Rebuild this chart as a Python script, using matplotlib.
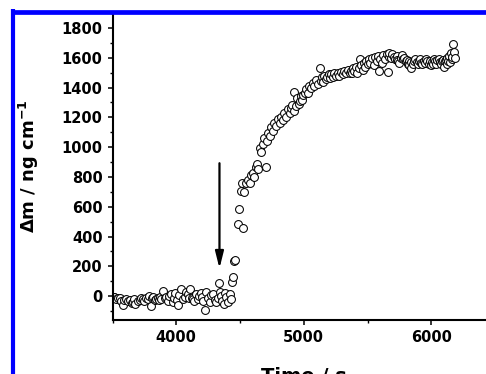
import matplotlib
matplotlib.use("Agg")
import matplotlib.pyplot as plt
from matplotlib.lines import Line2D
from matplotlib.ticker import MultipleLocator

plt.rcParams['font.family'] = ['DejaVu Sans']
plt.rcParams['font.weight'] = 'bold'
plt.rcParams['mathtext.default'] = 'bf'

time_s = [
    3510, 3515, 3528, 3540, 3555, 3568, 3581, 3594, 3607, 3620, 3639, 3650, 3659, 3670, 3680, 3696,
    3700, 3712, 3725, 3738, 3750, 3764, 3777, 3790, 3803, 3812, 3821, 3832, 3843, 3853, 3863, 3875,
    3884, 3895, 3908, 3921, 3935, 3947, 3960, 3973, 3984, 3994, 4003, 4012, 4025, 4039, 4052, 4065,
    4078, 4091, 4100, 4109, 4120, 4130, 4143, 4156, 4170, 4182, 4192, 4203, 4212, 4222, 4235, 4248,
    4261, 4274, 4287, 4300, 4313, 4325, 4334, 4343, 4352, 4362, 4371, 4382, 4392, 4405, 4418, 4428,
    4439, 4448, 4455, 4460, 4483, 4491, 4509, 4512, 4522, 4535, 4549, 4560, 4575, 4588, 4600, 4612,
    4625, 4637, 4645, 4653, 4665, 4680, 4692, 4705, 4712, 4720, 4735, 4745, 4755, 4770, 4785, 4797,
    4810, 4822, 4835, 4848, 4862, 4875, 4890, 4900, 4911, 4920, 4927, 4938, 4950, 4960, 4967, 4977,
    4985, 4995, 5006, 5018, 5030, 5045, 5058, 5070, 5080, 5095, 5108, 5124, 5132, 5140, 5150, 5160,
    5172, 5186, 5195, 5205, 5215, 5226, 5238, 5250, 5265, 5280, 5292, 5306, 5318, 5330, 5345, 5359,
    5370, 5380, 5390, 5398, 5410, 5420, 5432, 5445, 5452, 5461, 5470, 5480, 5490, 5500, 5510, 5520,
    5535, 5553, 5562, 5575, 5585, 5591, 5600, 5610, 5625, 5640, 5650, 5659, 5665, 5672, 5684, 5696,
    5708, 5719, 5728, 5735, 5742, 5750, 5762, 5774, 5782, 5790, 5800, 5808, 5815, 5822, 5829, 5838,
    5845, 5855, 5865, 5875, 5885, 5895, 5905, 5915, 5922, 5931, 5940, 5950, 5960, 5970, 5980, 5988,
    5996, 6005, 6015, 6022, 6030, 6040, 6049, 6060, 6070, 6078, 6085, 6093, 6101, 6108, 6115, 6122,
    6127, 6135, 6140, 6148, 6153, 6160, 6165, 6174, 6182, 6190,
]

mass_ng = [
    -5, -8, -20, -14, -11, -30, -62, -25, -18, -35, -29, -45, -40, -20, -51, -178,
    -30, -24, -10, -18, -35, -11, -20, -2, -64, -15, -7, -25, -18, -10, -29, -5,
    -20, 33, -12, -7, -30, 4, 15, -40, -10, 20, -25, -62, 10, 49, -20, -7,
    30, 16, -15, 51, -10, -18, -35, 16, -20, 4, 20, -7, -30, -96, 27, -15,
    -40, 10, 16, -25, -40, -10, 89, 30, 4, -30, -51, 20, -7, -40, 16, -20,
    98, 127, 235, 245, 484, 584, 707, 762, 458, 696, 756, 780, 760, 810, 829, 800,
    870, 884, 850, 996, 965, 1018, 1062, 867, 1040, 1096, 1075, 1135, 1110, 1165, 1140, 1190,
    1160, 1200, 1185, 1230, 1205, 1255, 1230, 1265, 1284, 1240, 1373, 1275, 1330, 1290, 1307, 1345,
    1315, 1350, 1362, 1390, 1365, 1410, 1395, 1430, 1410, 1450, 1425, 1529, 1445, 1470, 1440, 1475,
    1455, 1473, 1490, 1465, 1490, 1470, 1500, 1480, 1495, 1478, 1505, 1488, 1510, 1495, 1520, 1498,
    1510, 1495, 1530, 1512, 1540, 1500, 1530, 1591, 1550, 1520, 1565, 1540, 1580, 1555, 1590, 1562,
    1595, 1551, 1605, 1575, 1610, 1511, 1590, 1562, 1615, 1590, 1625, 1502, 1605, 1630, 1595, 1625,
    1605, 1590, 1610, 1585, 1575, 1565, 1595, 1618, 1590, 1600, 1575, 1585, 1560, 1580, 1550, 1570,
    1529, 1560, 1580, 1590, 1570, 1555, 1575, 1590, 1565, 1555, 1580, 1565, 1590, 1575, 1560, 1580,
    1551, 1570, 1560, 1590, 1575, 1555, 1584, 1590, 1570, 1555, 1575, 1585, 1540, 1575, 1585, 1560,
    1596, 1580, 1610, 1570, 1629, 1590, 1605, 1689, 1640, 1596,
]

arrow_x = 4339
arrow_y_start = 892
arrow_y_end = 186

W, H = 486, 374
fig = plt.figure(figsize=(W / 100, H / 100), dpi=100)
ax = fig.add_axes([112.5 / W, (H - 320) / H, 382.5 / W, (320 - 13) / H])

ax.scatter(time_s, mass_ng, s=32, facecolors='white', edgecolors='black',
           linewidths=0.75, zorder=2)

ax.annotate('', xy=(arrow_x, arrow_y_end), xytext=(arrow_x, arrow_y_start),
            arrowprops=dict(arrowstyle='-|>,head_length=1.0,head_width=0.25',
                            color='black', lw=1.6, shrinkA=0, shrinkB=0))

ax.set_xlim(3500, 6500)
ax.set_ylim(-160, 1900)
ax.xaxis.set_major_locator(MultipleLocator(1000))
ax.xaxis.set_minor_locator(MultipleLocator(500))
ax.yaxis.set_major_locator(MultipleLocator(200))
ax.yaxis.set_minor_locator(MultipleLocator(100))

for s in ['top', 'right']:
    ax.spines[s].set_visible(False)
for s in ['left', 'bottom']:
    ax.spines[s].set_linewidth(1.5)

ax.tick_params(which='major', direction='out', length=3.6, width=1.1, labelsize=10.5, pad=3.5)
ax.tick_params(which='minor', direction='out', length=2.2, width=1.0)
for lab in ax.get_xticklabels() + ax.get_yticklabels():
    lab.set_fontweight('bold')

ax.set_xlabel('Time / s', fontsize=14, fontweight='bold', labelpad=16)
ax.set_ylabel('Δm / ng cm$^{-1}$', fontsize=13, fontweight='bold', labelpad=15)

# blue frame lines (top and left)
fig.add_artist(Line2D([11 / W, 1.0], [(H - 11.5) / H, (H - 11.5) / H],
                      transform=fig.transFigure, color='#0000ff', lw=3.4,
                      solid_capstyle='butt', zorder=10))
fig.add_artist(Line2D([13 / W, 13 / W], [0.0, (H - 9) / H],
                      transform=fig.transFigure, color='#0000ff', lw=3.0,
                      solid_capstyle='butt', zorder=10))

fig.savefig('out.png', dpi=100)
